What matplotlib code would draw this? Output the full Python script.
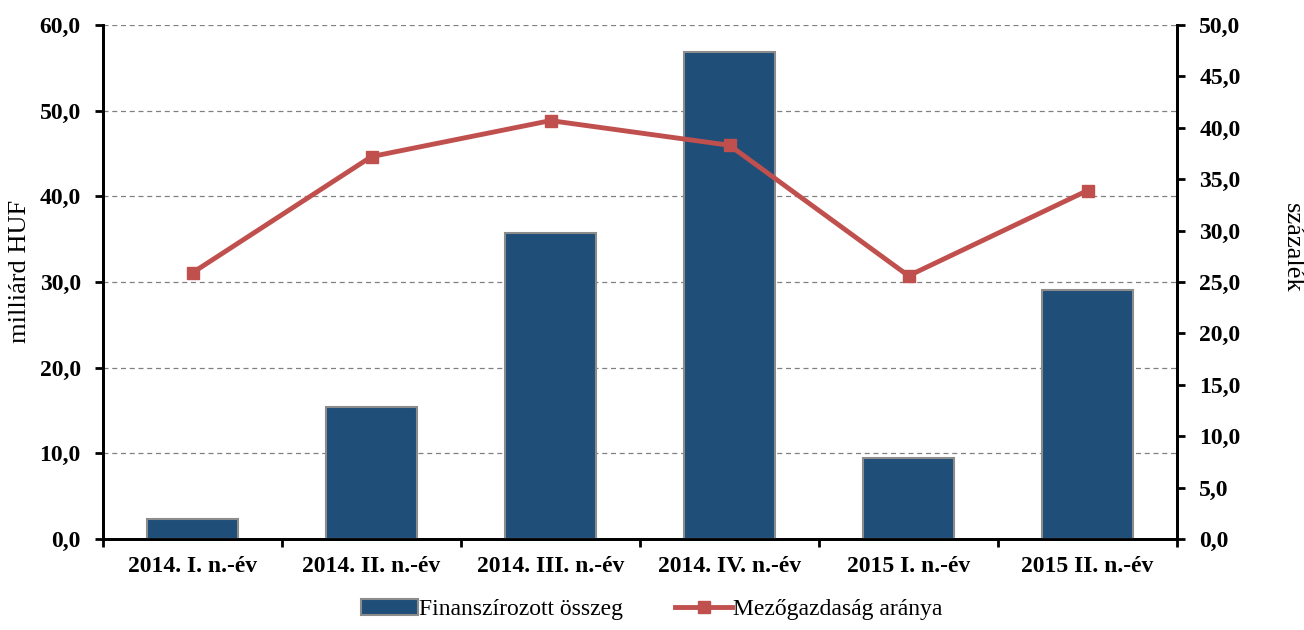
import matplotlib
matplotlib.use('Agg')
import matplotlib.pyplot as plt
import numpy as np
from matplotlib.ticker import MultipleLocator, FuncFormatter

categories = ['2014. I. n.-év', '2014. II. n.-év', '2014. III. n.-év',
              '2014. IV. n.-év', '2015 I. n.-év', '2015 II. n.-év']
financed = [2.3, 15.4, 35.7, 56.8, 9.4, 29.1]
agri_share = [25.9, 37.2, 40.7, 38.3, 25.6, 33.9]

plt.rcParams['font.family'] = ['Liberation Serif', 'DejaVu Serif']

fig = plt.figure(figsize=(13.04, 6.3), dpi=100)
ax = fig.add_axes([103 / 1304, 1 - 539 / 630, (1177 - 103) / 1304, (539 - 25) / 630])
ax2 = ax.twinx()

x = np.arange(len(categories))
bars = ax.bar(x, financed, width=0.51, color='#1f4e79', edgecolor='#8c8c8c',
              linewidth=1.5, label='Finanszírozott összeg', zorder=3)
line, = ax2.plot(x, agri_share, color='#c0504d', linewidth=3.5, marker='s',
                 markersize=9, label='Mezőgazdaság aránya', zorder=4)

comma = FuncFormatter(lambda v, p: f'{v:.1f}'.replace('.', ','))

ax.set_xlim(-0.5, len(categories) - 0.5)
ax.set_ylim(0, 60)
ax.yaxis.set_major_locator(MultipleLocator(10))
ax.yaxis.set_major_formatter(comma)
ax.grid(axis='y', color='#808080', linestyle=(0, (4, 3)), linewidth=0.9, zorder=0)
ax.set_axisbelow(True)

ax2.set_ylim(0, 50)
ax2.yaxis.set_major_locator(MultipleLocator(5))
ax2.yaxis.set_major_formatter(comma)

ax.set_xticks(x)
ax.set_xticklabels(categories)
ax.set_xticks(np.arange(len(categories) + 1) - 0.5, minor=True)
ax.tick_params(axis='x', which='major', length=0, pad=12)
ax.tick_params(axis='x', which='minor', length=6, width=2, direction='out')

for a in (ax, ax2):
    a.spines['top'].set_visible(False)
    for s in ('left', 'right', 'bottom'):
        a.spines[s].set_linewidth(2)
    a.tick_params(axis='y', length=6, width=2, direction='out', labelsize=17, pad=10)
    for lbl in a.get_yticklabels():
        lbl.set_fontweight('bold')
for lbl in ax.get_xticklabels():
    lbl.set_fontweight('bold')
    lbl.set_fontsize(17)

ax.set_ylabel('milliárd HUF', fontsize=19, va='center')
ax.yaxis.set_label_coords(-0.077, 0.52)
ax2.set_ylabel('százalék', fontsize=19, rotation=270, va='center')
ax2.yaxis.set_label_coords(1.107, 0.566)

fig.legend([bars, line], ['Finanszírozott összeg', 'Mezőgazdaság aránya'],
           loc='lower center', bbox_to_anchor=(0.5, -0.018), ncol=2, frameon=False,
           fontsize=17, handlelength=2.4, handletextpad=0.05, columnspacing=2.2)

fig.savefig('out.png', dpi=100)
